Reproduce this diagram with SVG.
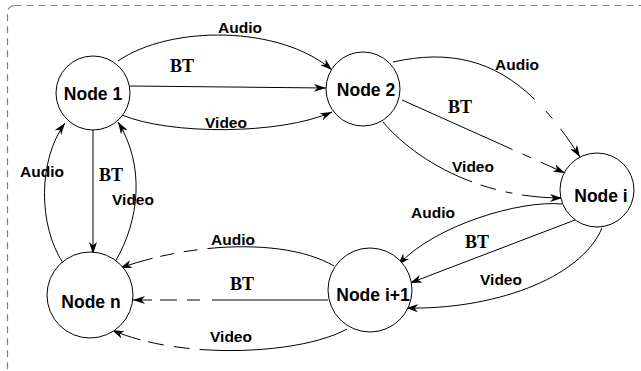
<svg xmlns="http://www.w3.org/2000/svg" width="641" height="371" viewBox="0 0 641 371">
<style>
.node circle{fill:#fff;stroke:#000;stroke-width:1}
.nl{font-family:"Liberation Sans",Arial,sans-serif;font-weight:bold;font-size:17.5px;text-anchor:middle;fill:#000}
.el{font-family:"Liberation Sans",Arial,sans-serif;font-weight:bold;font-size:15.5px;text-anchor:middle;fill:#000}
.bt{font-family:"Liberation Serif","Times New Roman",serif;font-weight:bold;font-size:18px;text-anchor:middle;fill:#000}
.c{fill:none;stroke:#000;stroke-width:1;marker-end:url(#ah)}
.frame{fill:none;stroke:#808080;stroke-width:1.2;stroke-dasharray:7 5}
</style>
<defs>
<marker id="ah" viewBox="0 0 12 8" refX="12" refY="4" markerWidth="12" markerHeight="8" markerUnits="userSpaceOnUse" orient="auto">
<path d="M0,0 L12,4 L0,8 L3.5,4 Z" fill="#000"/>
</marker>
</defs>
<rect class="frame" x="7.5" y="5.5" width="700" height="420" rx="7"/>
<g id="connectors">
<path class="c" d="M118,61 C170,25 280,25 332,70"/>
<path class="c" d="M130,86 L326,88"/>
<path class="c" d="M122,115 C170,135 280,135 332,112"/>
<path class="c" d="M393,62 C470,45 525,70 580,157" pathLength="226" stroke-dasharray="153 16 10 13 40"/>
<path class="c" d="M402,100 L565,173" stroke-dasharray="121 11 9 11 30"/>
<path class="c" d="M383,122 C415,160 480,198 562,198" pathLength="201" stroke-dasharray="109 9 16 10 7 10 40"/>
<path class="c" d="M562,204 C520,200 435,225 398,265"/>
<path class="c" d="M575,220 L410,283"/>
<path class="c" d="M602,228 C580,280 490,310 406,308"/>
<path class="c" d="M334,266 C290,240 200,240 120,268" pathLength="220" stroke-dasharray="130 10 14 10 14 8 40"/>
<path class="c" d="M328,300 L133,300" stroke-dasharray="116 12 13 10 17 8 25"/>
<path class="c" d="M347,329 C300,355 180,360 112,330" pathLength="240" stroke-dasharray="150 10 16 10 16 8 40"/>
<path class="c" d="M63,263 C38,225 38,160 65,123"/>
<path class="c" d="M93,130 L93,254"/>
<path class="c" d="M115,262 C140,220 145,165 118,122"/>
</g>
<g id="labels">
<text class="el" x="240" y="33">Audio</text>
<text class="bt" x="182" y="72">BT</text>
<text class="el" x="226" y="128">Video</text>
<text class="el" x="517" y="70">Audio</text>
<text class="bt" x="460" y="113">BT</text>
<text class="el" x="473" y="172">Video</text>
<text class="el" x="433" y="218">Audio</text>
<text class="bt" x="477" y="248">BT</text>
<text class="el" x="501" y="285">Video</text>
<text class="el" x="233" y="245">Audio</text>
<text class="bt" x="242" y="290">BT</text>
<text class="el" x="231" y="342">Video</text>
<text class="el" x="42" y="177">Audio</text>
<text class="bt" x="111" y="181">BT</text>
<text class="el" x="133" y="205">Video</text>
</g>
<g id="node1" class="node"><circle cx="93" cy="93" r="37"/><text class="nl" x="93" y="100">Node 1</text></g>
<g id="node2" class="node"><circle cx="363" cy="89" r="37"/><text class="nl" x="366" y="96">Node 2</text></g>
<g id="nodei" class="node"><circle cx="597" cy="190" r="37"/><text class="nl" x="601" y="202">Node i</text></g>
<g id="nodei1" class="node"><circle cx="370" cy="290" r="42"/><text class="nl" x="373" y="301">Node i+1</text></g>
<g id="noden" class="node"><circle cx="90" cy="295" r="43"/><text class="nl" x="91" y="308">Node n</text></g>
</svg>
